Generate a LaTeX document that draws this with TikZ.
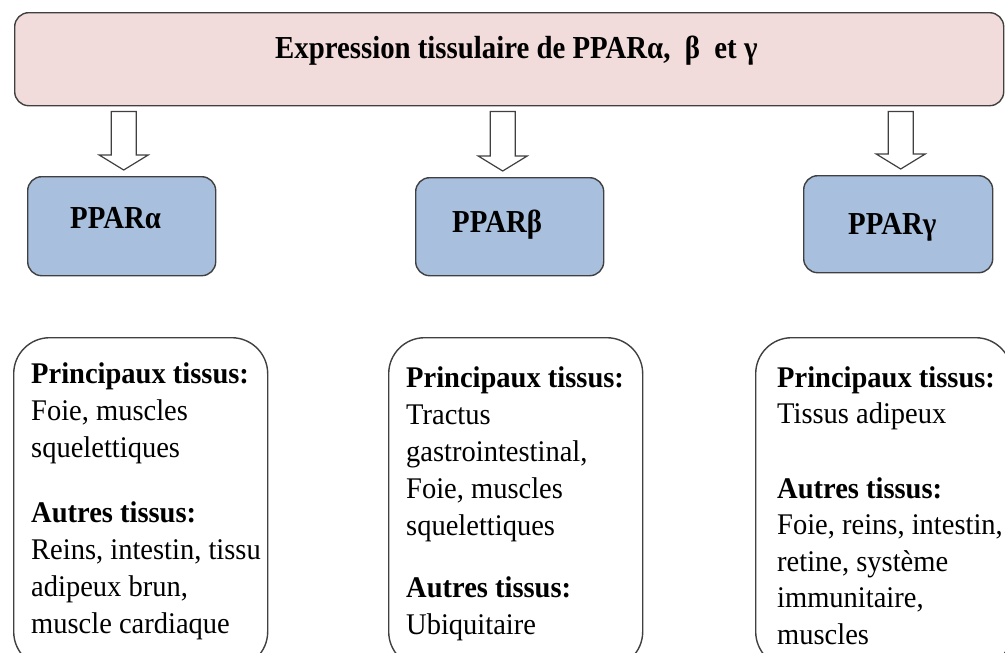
\documentclass[tikz,border=0pt]{standalone}
\usepackage{fontspec}
\setmainfont{Liberation Serif}
\newfontfamily\headfont{Liberation Serif}[FakeStretch=0.9]
\newfontfamily\bodyfont{Liberation Serif}[FakeStretch=0.95]
\usetikzlibrary{calc}
\definecolor{pinkfill}{RGB}{242,220,219}
\definecolor{bluefill}{RGB}{168,191,222}
\definecolor{edgegray}{RGB}{64,64,64}
\newcommand\hollowarrow[3]{%
  \draw[blockarrow] let \p1=(#1.south -| #2.north), \p2=(#2.north) in
   ({\x1+(#3pt)-12.5pt},{\y1-5pt}) -- ({\x1+(#3pt)+12.5pt},{\y1-5pt})
   -- ({\x1+(#3pt)+12.5pt},{\y2+21pt}) -- ({\x1+(#3pt)+24.5pt},{\y2+21pt})
   -- ({\x1+(#3pt)},{\y2+6pt}) -- ({\x1+(#3pt)-24.5pt},{\y2+21pt})
   -- ({\x1+(#3pt)-12.5pt},{\y2+21pt}) -- cycle;}
\begin{document}
\begin{tikzpicture}[x=1pt,y=-1pt,
  header/.style={draw=edgegray, line width=1.4pt, rounded corners=14pt, fill=pinkfill, anchor=north west, inner sep=0pt},
  ppar/.style={draw=edgegray, line width=1.4pt, rounded corners=14pt, fill=bluefill, anchor=north west, inner sep=0pt},
  tissue/.style={draw=edgegray, line width=1.4pt, rounded corners=36pt, fill=white, anchor=north west, inner sep=0pt},
  headtext/.style={inner sep=0pt, anchor=base west, font=\headfont\bfseries\fontsize{32}{38}\selectfont},
  bodytext/.style={inner sep=0pt, anchor=base west},
  blockarrow/.style={draw=edgegray, line width=1.2pt, fill=white}]
\useasboundingbox (0,0) rectangle (1005,653);
\begin{scope}
\clip (0,0) rectangle (1005,653);
% header
\node[header, minimum width=989pt, minimum height=93pt] (top) at (14,12) {};
\node[headtext] (title) at (275,58) {Expression tissulaire de PPARα,~~β~~et γ};
% PPAR boxes
\node[ppar, minimum width=188pt, minimum height=99pt] (pa) at (27,176) {};
\node[ppar, minimum width=188pt, minimum height=98pt] (pb) at (415,177) {};
\node[ppar, minimum width=189pt, minimum height=97pt] (pg) at (803,175) {};
\node[headtext] (la) at (70,228) {PPARα};
\node[headtext] (lb) at (452,232) {PPARβ};
\node[headtext] (lg) at (848,234) {PPARγ};
% arrows
\hollowarrow{top}{pa}{2}
\hollowarrow{top}{pb}{-7}
\hollowarrow{top}{pg}{2.5}
% tissue boxes
\node[tissue, minimum width=254pt, minimum height=330pt] (ta) at (13,337) {};
\node[tissue, minimum width=254pt, minimum height=330pt] (tb) at (388,337) {};
\node[tissue, minimum width=256pt, minimum height=330pt] (tg) at (755,337) {};
\node[bodytext] (xa) at (31,383) {\parbox[t]{260pt}{\bodyfont\fontsize{30}{37}\selectfont\raggedright
\textbf{Principaux tissus:}\\ Foie, muscles\\ squelettiques\\[28pt]
\textbf{Autres tissus:}\\ Reins, intestin, tissu\\ adipeux brun,\\ muscle cardiaque}};
\node[bodytext] (xb) at (406,387) {\parbox[t]{260pt}{\bodyfont\fontsize{30}{37}\selectfont\raggedright
\textbf{Principaux tissus:}\\ Tractus\\ gastrointestinal,\\ Foie, muscles\\ squelettiques\\[25pt]
\textbf{Autres tissus:}\\ Ubiquitaire}};
\node[bodytext] (xg) at (777,387) {\parbox[t]{260pt}{\bodyfont\fontsize{30}{36.5}\selectfont\raggedright
\textbf{Principaux tissus:}\\ Tissus adipeux\\[38pt]
\textbf{Autres tissus:}\\ Foie, reins, intestin,\\ retine, système\\ immunitaire,\\ muscles}};
\end{scope}
\end{tikzpicture}
\end{document}
